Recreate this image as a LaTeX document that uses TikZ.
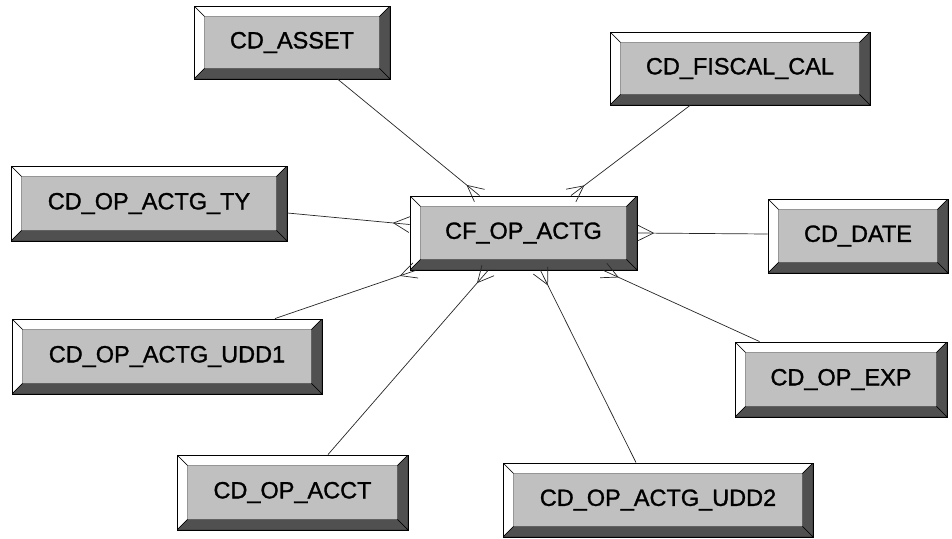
\documentclass[tikz,border=0pt]{standalone}
\usepackage{fontspec}
\setmainfont{Liberation Sans}
\newfontface\boxfont{Liberation Sans}[FakeBold=1.2]
\usetikzlibrary{decorations.markings}
\definecolor{facegray}{RGB}{192,192,192}
\definecolor{bevdark}{RGB}{80,80,80}
\def\bevw{10.5pt}
\tikzset{
  bevbox/.style={rectangle, draw=black, line width=0.9pt, fill=facegray, inner sep=0pt,
    minimum width=#1, font=\boxfont\fontsize{23.5}{28}\selectfont,
    path picture={
      \coordinate (pnw) at (path picture bounding box.north west);
      \coordinate (pne) at (path picture bounding box.north east);
      \coordinate (psw) at (path picture bounding box.south west);
      \coordinate (pse) at (path picture bounding box.south east);
      \filldraw[fill=white, draw=black, line width=0.4pt] (pnw) -- (pne) -- ([shift={(-\bevw,-\bevw)}]pne) -- ([shift={(\bevw,-\bevw)}]pnw) -- cycle;
      \filldraw[fill=white, draw=black, line width=0.4pt] (pnw) -- ([shift={(\bevw,-\bevw)}]pnw) -- ([shift={(\bevw,\bevw)}]psw) -- (psw) -- cycle;
      \filldraw[fill=bevdark, draw=black, line width=0.4pt] (pne) -- (pse) -- ([shift={(-\bevw,\bevw)}]pse) -- ([shift={(-\bevw,-\bevw)}]pne) -- cycle;
      \filldraw[fill=bevdark, draw=black, line width=0.4pt] (psw) -- (pse) -- ([shift={(-\bevw,\bevw)}]pse) -- ([shift={(\bevw,\bevw)}]psw) -- cycle;
    }},
  conn/.style={draw=black!85, line width=0.7pt},
  crowfoot/.style={conn, postaction={decorate}, decoration={markings,
      mark=at position 1 with {\draw[black!85, line width=0.7pt] (-16pt,0pt) -- (0pt,8pt); \draw[black!85, line width=0.7pt] (-16pt,0pt) -- (0pt,-8pt);}}}
}
\begin{document}
\begin{tikzpicture}[x=1pt, y=-1pt]
\useasboundingbox (0,0) rectangle (952,538);
\node[bevbox=196pt, minimum height=73pt] (asset) at (292,42.5) {CD\_ASSET};
\node[bevbox=260pt, minimum height=73pt] (fiscal) at (740,68.5) {CD\_FISCAL\_CAL};
\node[bevbox=276pt, minimum height=75pt] (ty) at (149,203.5) {CD\_OP\_ACTG\_TY};
\node[bevbox=227pt, minimum height=74pt] (cf) at (523.5,233) {CF\_OP\_ACTG};
\node[bevbox=180pt, minimum height=74pt] (date) at (858,236) {CD\_DATE};
\node[bevbox=310pt, minimum height=75pt] (udd1) at (167,356.5) {CD\_OP\_ACTG\_UDD1};
\node[bevbox=212pt, minimum height=75pt] (exp) at (841,379.5) {CD\_OP\_EXP};
\node[bevbox=231pt, minimum height=75pt] (acct) at (292.5,492.5) {CD\_OP\_ACCT};
\node[bevbox=310pt, minimum height=74pt] (udd2) at (658,500) {CD\_OP\_ACTG\_UDD2};

\draw[crowfoot] ([xshift=46pt]asset.south) -- ([xshift=-44pt]cf.north);
\draw[crowfoot] ([xshift=-50pt]fiscal.south) -- ([xshift=47.5pt]cf.north);
\draw[crowfoot] ([yshift=-9.5pt]ty.east) -- ([yshift=8.5pt]cf.west);
\draw[crowfoot] ([yshift=2pt]date.west) -- (cf.east);
\draw[crowfoot] ([xshift=108pt]udd1.north) -- ([xshift=6pt]cf.south west);
\draw[crowfoot] ([xshift=35.5pt]acct.north) -- ([xshift=-35.5pt]cf.south);
\draw[crowfoot] ([xshift=-22pt]udd2.north) -- ([xshift=17pt]cf.south);
\draw[crowfoot] ([xshift=25pt]exp.north west) -- ([xshift=-34pt]cf.south east);
\end{tikzpicture}
\end{document}
